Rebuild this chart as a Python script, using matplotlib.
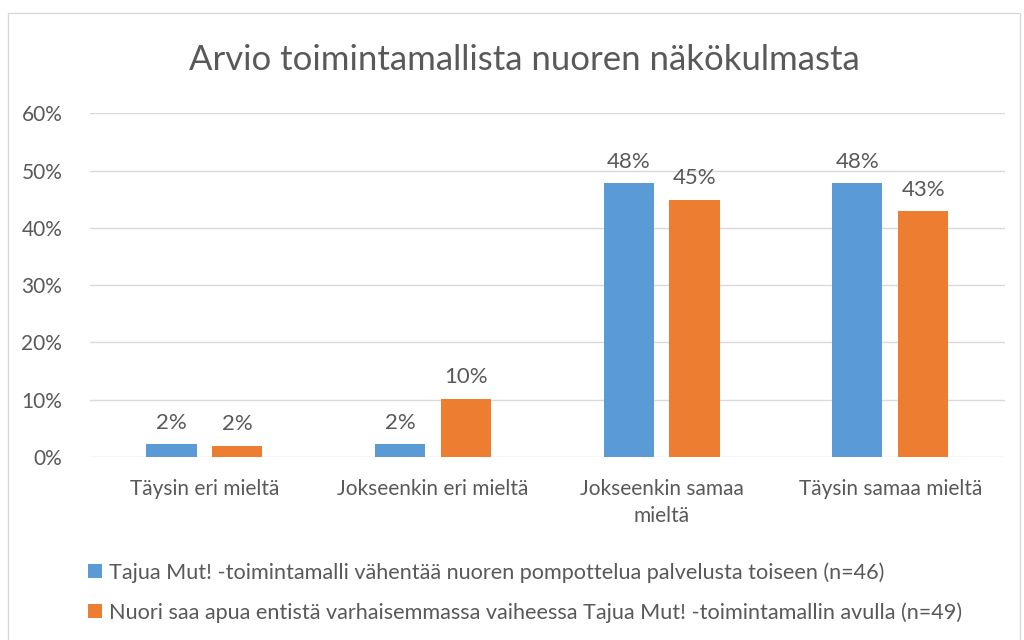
import matplotlib.pyplot as plt
import numpy as np
from matplotlib.patches import Rectangle

plt.rcParams['font.family'] = ['Lato', 'DejaVu Sans']

categories = ["Täysin eri mieltä", "Jokseenkin eri mieltä", "Jokseenkin samaa\nmieltä", "Täysin samaa mieltä"]
series1_name = "Tajua Mut! -toimintamalli vähentää nuoren pompottelua palvelusta toiseen (n=46)"
series2_name = "Nuori saa apua entistä varhaisemmassa vaiheessa Tajua Mut! -toimintamallin avulla (n=49)"
series1 = [0.022, 0.022, 0.478, 0.478]
series2 = [0.020, 0.102, 0.449, 0.429]
yticks = [0, 0.1, 0.2, 0.3, 0.4, 0.5, 0.6]

blue = "#5B9BD5"
orange = "#ED7D31"
txt = "#595959"

fig = plt.figure(figsize=(10.24, 6.4), dpi=100)
fig.patches.append(Rectangle((8 / 1024, -0.1), (1020 - 8) / 1024, 1.1 - 13 / 640,
                             transform=fig.transFigure, fill=False,
                             edgecolor="#d9d9d9", linewidth=1))
ax = fig.add_axes([0.088, 0.286, 0.893, 0.537])

x = np.arange(len(categories))
w = 0.22
off = 0.144
b1 = ax.bar(x - off, series1, w, color=blue, label=series1_name, zorder=3)
b2 = ax.bar(x + off, series2, w, color=orange, label=series2_name, zorder=3)

for bars, vals in ((b1, series1), (b2, series2)):
    for b, v in zip(bars, vals):
        ax.text(b.get_x() + b.get_width() / 2, v + 0.02, f"{round(v * 100):.0f}%",
                ha="center", va="bottom", fontsize=16, color=txt)

ax.set_xlim(-0.5, 3.5)
ax.set_ylim(0, 0.6)
ax.set_yticks(yticks)
ax.set_yticklabels([f"{int(round(t * 100))}%" for t in yticks])
ax.set_xticks(x)
ax.set_xticklabels(categories, linespacing=1.4)
ax.tick_params(axis="both", length=0, labelsize=15, colors=txt)
ax.tick_params(axis="x", pad=16)
ax.tick_params(axis="y", pad=20)
ax.grid(axis="y", color="#d9d9d9", linewidth=1, zorder=0)
for s in ax.spines.values():
    s.set_visible(False)

fig.text(0.512, 0.907, "Arvio toimintamallista nuoren näkökulmasta", ha="center", va="center",
         fontsize=25, color=txt)

fig.legend(handles=[b1, b2], loc="upper left", bbox_to_anchor=(0.067, 0.152),
           frameon=False, fontsize=15.6, labelcolor=txt, handlelength=0.62, handleheight=0.62,
           handletextpad=0.35, labelspacing=0.9)

fig.savefig("out.png", dpi=100)
